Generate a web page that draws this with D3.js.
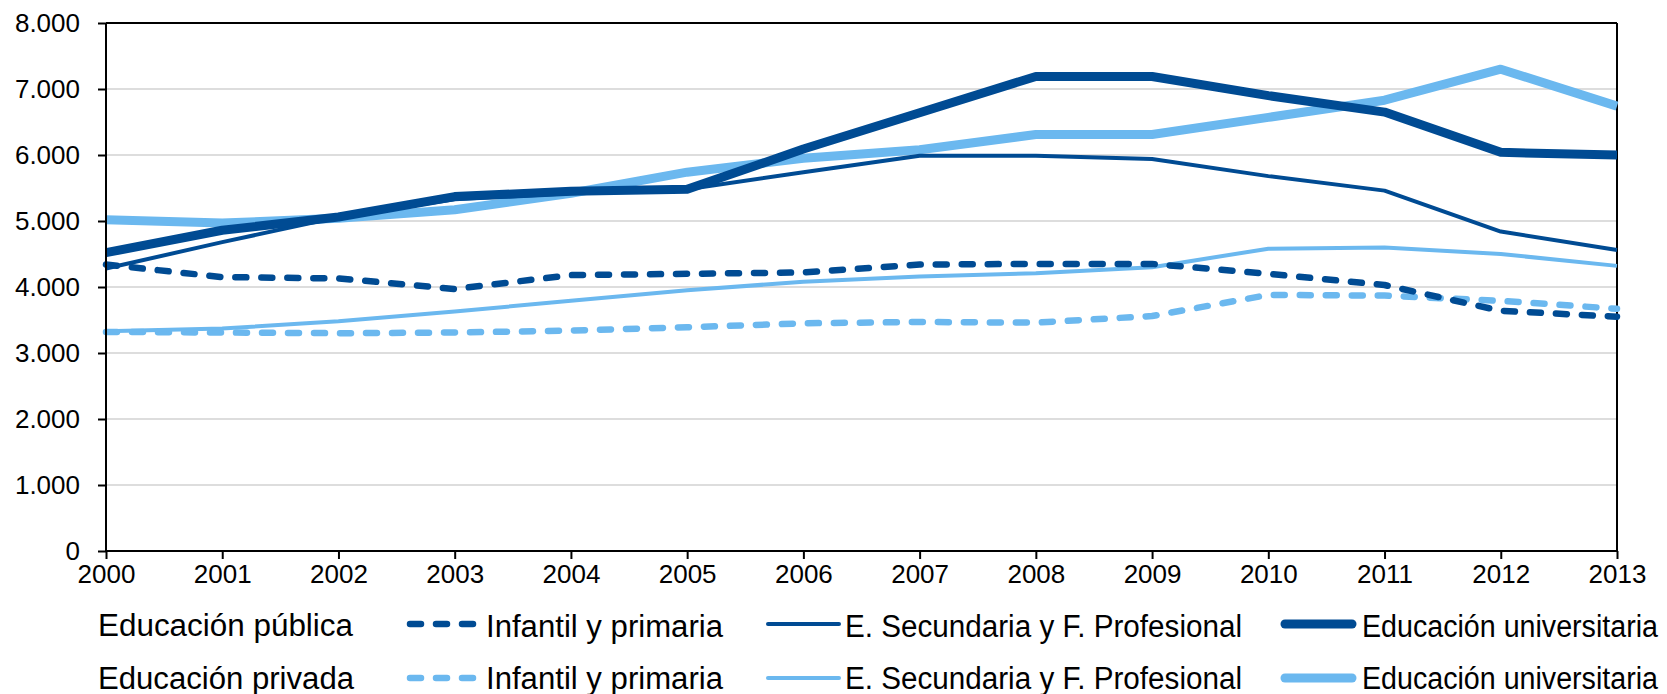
<!DOCTYPE html>
<html>
<head>
<meta charset="utf-8">
<script src="https://cdn.jsdelivr.net/npm/d3@7"></script>
<style>
	body { margin: 0; background: #fff; }
	text { font-family: "Liberation Sans", Arial, sans-serif; fill: #000; }
</style>
</head>
<body>
<div class="chart"></div>
<script>

const years = [2000, 2001, 2002, 2003, 2004, 2005, 2006, 2007, 2008, 2009, 2010, 2011, 2012, 2013];
const yTicks = [0, 1000, 2000, 3000, 4000, 5000, 6000, 7000, 8000];

const groupLabels = ['Educación pública', 'Educación privada'];
const seriesLabels = ['Infantil y primaria', 'E. Secundaria y F. Profesional', 'Educación universitaria'];

const publicInfantil = [4340, 4150, 4130, 3970, 4180, 4200, 4220, 4340, 4350, 4350, 4200, 4030, 3640, 3550];
const publicSecundaria = [4280, 4680, 5060, 5330, 5420, 5480, 5740, 5990, 5990, 5940, 5680, 5460, 4840, 4560];
const publicUniversidad = [4520, 4860, 5060, 5370, 5450, 5480, 6090, 6640, 7190, 7190, 6900, 6650, 6040, 6000];

const privateInfantil = [3320, 3310, 3300, 3310, 3340, 3390, 3450, 3470, 3460, 3560, 3880, 3870, 3790, 3670];
const privateSecundaria = [3330, 3370, 3480, 3630, 3790, 3950, 4080, 4160, 4210, 4300, 4580, 4600, 4500, 4320];
const privateUniversidad = [5020, 4970, 5040, 5170, 5420, 5740, 5950, 6080, 6310, 6310, 6570, 6830, 7300, 6740];

const darkBlue = '#004b93';
const lightBlue = '#6bb8ef';

// drawn back to front: private first, public on top
const series = [
	{ values: privateInfantil, color: lightBlue, width: 6.5, dash: '11,15' },
	{ values: privateSecundaria, color: lightBlue, width: 4, dash: null },
	{ values: privateUniversidad, color: lightBlue, width: 9, dash: null },
	{ values: publicInfantil, color: darkBlue, width: 6.5, dash: '11,15' },
	{ values: publicSecundaria, color: darkBlue, width: 4, dash: null },
	{ values: publicUniversidad, color: darkBlue, width: 9, dash: null }
];

const width = 1667;
const height = 694;
const margin = { top: 23, right: 50, bottom: 143, left: 106 };

const svg = d3.select('.chart').append('svg')
	.attr('width', width)
	.attr('height', height);

const x = d3.scaleLinear()
	.domain([years[0], years[years.length - 1]])
	.range([margin.left, width - margin.right]);

const y = d3.scaleLinear()
	.domain([0, 8000])
	.range([height - margin.bottom, margin.top]);

const locale = d3.formatLocale({ decimal: ',', thousands: '.', grouping: [3], currency: ['', '€'] });
const fmt = locale.format(',d');

// gridlines
svg.append('g')
	.selectAll('line')
	.data(yTicks.filter(d => d > 0 && d < 8000))
	.enter()
	.append('line')
	.attr('x1', margin.left)
	.attr('x2', width - margin.right)
	.attr('y1', d => y(d))
	.attr('y2', d => y(d))
	.attr('stroke', '#d2d2d2')
	.attr('stroke-width', 1.5);

// frame top and right
svg.append('line')
	.attr('x1', margin.left).attr('x2', width - margin.right)
	.attr('y1', y(8000)).attr('y2', y(8000))
	.attr('stroke', '#000').attr('stroke-width', 2);
svg.append('line')
	.attr('x1', width - margin.right).attr('x2', width - margin.right)
	.attr('y1', y(8000)).attr('y2', y(0))
	.attr('stroke', '#000').attr('stroke-width', 2);

const line = d3.line()
	.x((d, i) => x(years[i]))
	.y(d => y(d));

svg.selectAll('.series')
	.data(series)
	.enter()
	.append('path')
	.attr('d', d => line(d.values))
	.attr('fill', 'none')
	.attr('stroke', d => d.color)
	.attr('stroke-width', d => d.width)
	.attr('stroke-dasharray', d => d.dash)
	.attr('stroke-linecap', d => d.dash ? 'round' : 'butt')
	.attr('stroke-linejoin', 'round')
	.attr('class', 'series');

// axes
const yAxis = svg.append('g')
	.attr('transform', `translate(${margin.left},0)`)
	.call(d3.axisLeft(y).tickValues(yTicks).tickFormat(fmt).tickSize(8).tickPadding(18));

const xAxis = svg.append('g')
	.attr('transform', `translate(0,${y(0)})`)
	.call(d3.axisBottom(x).tickValues(years).tickFormat(d3.format('d')).tickSize(8).tickPadding(6));

[yAxis, xAxis].forEach(function(g) {
	g.select('.domain').attr('stroke', '#000').attr('stroke-width', 2);
	g.selectAll('.tick line').attr('stroke', '#000').attr('stroke-width', 2);
	g.selectAll('.tick text')
		.style('font-family', '"Liberation Sans", Arial, sans-serif')
		.style('font-size', '26px')
		.attr('fill', '#000');
});
yAxis.select('.domain').attr('d', `M0,${y(8000)}V${y(0)}`);
xAxis.select('.domain').attr('d', `M${margin.left},0H${width - margin.right}`);

// legend
const rowText = [637, 689];
const rowTitle = [636, 689];
const rowLine = [624, 678];
const cols = [
	{ x1: 410, x2: 474, tx: 486, tw: 237 },
	{ x1: 768, x2: 839, tx: 845, tw: 397 },
	{ x1: 1285, x2: 1352, tx: 1362, tw: 296 }
];
const titleWidths = [255, 256];

const legend = svg.append('g').attr('class', 'legend');

groupLabels.forEach(function(label, r) {
	legend.append('text')
		.text(label)
		.attr('x', 98)
		.attr('y', rowTitle[r])
		.attr('textLength', titleWidths[r])
		.attr('lengthAdjust', 'spacingAndGlyphs')
		.style('font-size', '31px');

	seriesLabels.forEach(function(name, c) {
		const s = series[(1 - r) * 3 + c];
		legend.append('line')
			.attr('x1', cols[c].x1)
			.attr('x2', cols[c].x2)
			.attr('y1', rowLine[r])
			.attr('y2', rowLine[r])
			.attr('stroke', s.color)
			.attr('stroke-width', s.width)
			.attr('stroke-dasharray', s.dash)
			.attr('stroke-linecap', 'round');

		legend.append('text')
			.text(name)
			.attr('x', cols[c].tx)
			.attr('y', rowText[r])
			.attr('textLength', cols[c].tw)
			.attr('lengthAdjust', 'spacingAndGlyphs')
			.style('font-size', '31px');
	});
});

</script>
</body>
</html>
